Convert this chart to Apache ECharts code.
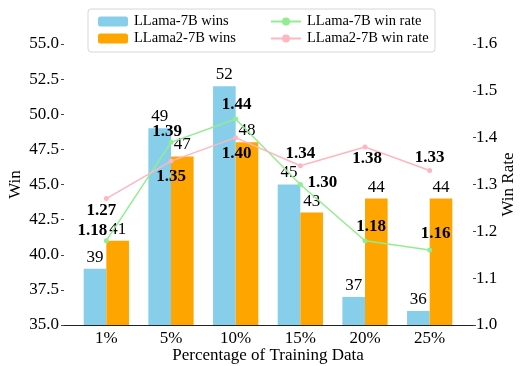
<!DOCTYPE html>
<html>
<head>
<meta charset="utf-8">
<script src="https://cdn.jsdelivr.net/npm/echarts@6/dist/echarts.min.js"></script>
<style>
  html, body { margin: 0; padding: 0; background: #fff; }
  #main { width: 523px; height: 366px; }
</style>
</head>
<body>
<div id="main"></div>
<script>
var categories = ['1%', '5%', '10%', '15%', '20%', '25%'];
var llamaWins = [39, 49, 52, 45, 37, 36];
var llama2Wins = [41, 47, 48, 43, 44, 44];
var llamaRate = [1.18, 1.39, 1.44, 1.30, 1.18, 1.16];
var llama2Rate = [1.27, 1.35, 1.40, 1.34, 1.38, 1.33];

// label nudges for the rate numbers (px, relative to the marker)
var llamaRateShift = [[-14, -10], [-4, -11], [1, -14], [22, -2], [6, -14], [6, -16]];
var llama2RateShift = [[-5, 12], [0, 16], [1, 16], [0, -12], [2, 12], [0, -13]];

var font = 'Liberation Serif, Times New Roman, serif';

var myChart = echarts.init(document.getElementById('main'));

function rateData(values, shifts) {
    return values.map(function (v, i) {
        return {value: v, label: {offset: shifts[i]}};
    });
}

var barLabel = {
    show: true,
    position: 'top',
    distance: 3,
    color: '#000',
    fontFamily: font,
    fontSize: 17
};

var rateLabel = {
    show: true,
    position: 'inside',
    color: '#000',
    fontFamily: font,
    fontSize: 17,
    fontWeight: 'bold',
    formatter: function (p) {
        return p.value.toFixed(2);
    }
};

var legendText = {fontFamily: font, fontSize: 14.5, color: '#000', padding: [0, 0, 0, 1]};

var option = {
    animation: false,
    textStyle: {fontFamily: font},
    graphic: [{
        type: 'rect',
        shape: {x: 88, y: 9, width: 347, height: 43, r: 3},
        style: {fill: 'rgba(255,255,255,0.8)', stroke: '#d6d6d6', lineWidth: 1},
        z: 10
    }],
    legend: [
        {
            orient: 'vertical',
            left: 93,
            top: 9,
            itemWidth: 30,
            itemHeight: 10,
            itemGap: 2,
            z: 20,
            textStyle: legendText,
            data: ['LLama-7B wins', 'LLama2-7B wins']
        },
        {
            orient: 'vertical',
            left: 265,
            top: 9,
            itemWidth: 30,
            itemHeight: 10,
            itemGap: 2,
            z: 20,
            textStyle: legendText,
            data: ['LLama-7B win rate', 'LLama2-7B win rate']
        }
    ],
    grid: [
        {left: 74, right: 61, top: 44, bottom: 41, outerBoundsMode: 'none'},
        {left: 64, right: 50, top: 44, bottom: 41, outerBoundsMode: 'none'}
    ],
    xAxis: [
        {
            type: 'category',
            gridIndex: 0,
            data: categories,
            name: 'Percentage of Training Data',
            nameLocation: 'middle',
            nameGap: 22,
            nameMoveOverlap: false,
            nameTextStyle: {fontFamily: font, fontSize: 17, color: '#000'},
            axisLine: {show: false},
            axisTick: {show: false},
            axisLabel: {fontFamily: font, fontSize: 17, color: '#000', margin: 5}
        },
        {
            type: 'value',
            gridIndex: 1,
            min: 0,
            max: 1,
            axisLine: {show: true, lineStyle: {color: '#222', width: 1}},
            axisTick: {show: false},
            axisLabel: {show: false},
            splitLine: {show: false}
        }
    ],
    yAxis: [
        {
            type: 'value',
            gridIndex: 0,
            position: 'left',
            offset: 10,
            min: 35,
            max: 55,
            interval: 2.5,
            name: 'Win',
            nameLocation: 'middle',
            nameRotate: 90,
            nameGap: 40,
            nameMoveOverlap: false,
            nameTextStyle: {fontFamily: font, fontSize: 17, color: '#000'},
            axisLine: {show: false},
            axisTick: {show: true, length: 3, lineStyle: {color: '#444'}},
            splitLine: {show: false},
            axisLabel: {
                fontFamily: font, fontSize: 17, color: '#000', margin: 5,
                formatter: function (v) { return v.toFixed(1); }
            }
        },
        {
            type: 'value',
            gridIndex: 0,
            position: 'right',
            offset: 11,
            min: 1.0,
            max: 1.6,
            interval: 0.1,
            name: 'Win Rate',
            nameLocation: 'middle',
            nameRotate: 90,
            nameGap: 27,
            nameMoveOverlap: false,
            nameTextStyle: {fontFamily: font, fontSize: 17, color: '#000'},
            axisLine: {show: false},
            axisTick: {show: true, length: 3, lineStyle: {color: '#444'}},
            splitLine: {show: false},
            axisLabel: {
                fontFamily: font, fontSize: 17, color: '#000', margin: 3,
                formatter: function (v) { return v.toFixed(1); }
            }
        },
        {
            type: 'value',
            gridIndex: 1,
            show: false
        }
    ],
    series: [
        {
            name: 'LLama-7B wins',
            type: 'bar',
            xAxisIndex: 0,
            yAxisIndex: 0,
            barWidth: '35%',
            barGap: '0%',
            itemStyle: {color: '#87CEEB'},
            label: barLabel,
            data: llamaWins
        },
        {
            name: 'LLama2-7B wins',
            type: 'bar',
            xAxisIndex: 0,
            yAxisIndex: 0,
            barWidth: '35%',
            barGap: '0%',
            itemStyle: {color: '#FFA500'},
            label: barLabel,
            data: llama2Wins
        },
        {
            name: 'LLama-7B win rate',
            type: 'line',
            xAxisIndex: 0,
            yAxisIndex: 1,
            symbol: 'circle',
            symbolSize: 5,
            z: 5,
            lineStyle: {color: '#90EE90', width: 1.5},
            itemStyle: {color: '#90EE90'},
            label: rateLabel,
            data: rateData(llamaRate, llamaRateShift)
        },
        {
            name: 'LLama2-7B win rate',
            type: 'line',
            xAxisIndex: 0,
            yAxisIndex: 1,
            symbol: 'circle',
            symbolSize: 5,
            z: 5,
            lineStyle: {color: '#FFB6C1', width: 1.5},
            itemStyle: {color: '#FFB6C1'},
            label: rateLabel,
            data: rateData(llama2Rate, llama2RateShift)
        }
    ]
};

myChart.setOption(option);
</script>
</body>
</html>
